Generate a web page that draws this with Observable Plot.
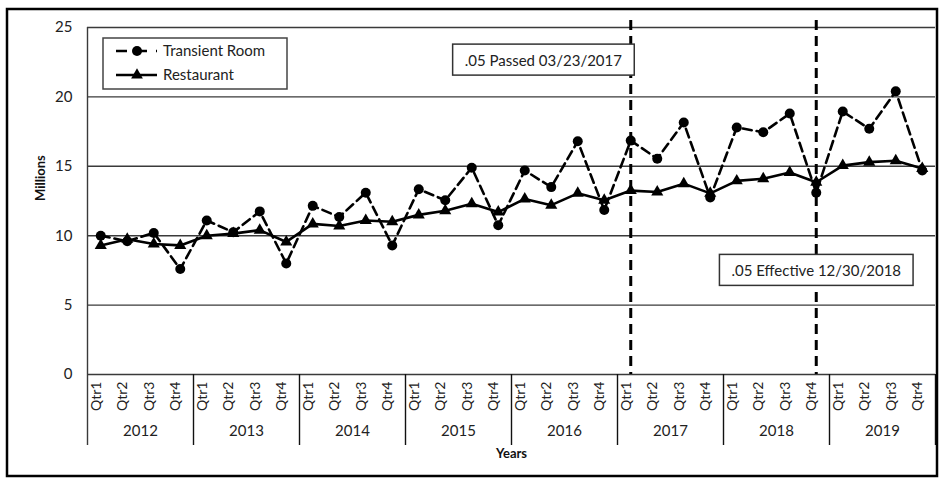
<!DOCTYPE html>
<html><head><meta charset="utf-8">
<script src="https://cdn.jsdelivr.net/npm/d3@7"></script>
<script src="https://cdn.jsdelivr.net/npm/@observablehq/plot@0.6"></script>
<style>
body{margin:0;background:#fff;}
#chart svg{font-family: Lato, "Liberation Sans", sans-serif; background:#fff;}
</style></head><body><div id="chart"></div>
<script>
const years = ["2012","2013","2014","2015","2016","2017","2018","2019"];
const quarters = ["Qtr1","Qtr2","Qtr3","Qtr4"];
const transientRoom = [10.0, 9.6, 10.2, 7.6, 11.1, 10.25, 11.75, 8.0,
  12.15, 11.35, 13.1, 9.3, 13.35, 12.55, 14.9, 10.75,
  14.7, 13.5, 16.8, 11.85, 16.85, 15.55, 18.15, 12.75,
  17.8, 17.45, 18.8, 13.1, 18.95, 17.7, 20.4, 14.7];
const restaurant = [9.3, 9.75, 9.4, 9.3, 10.0, 10.15, 10.4, 9.55,
  10.85, 10.7, 11.1, 11.0, 11.5, 11.8, 12.3, 11.7,
  12.65, 12.2, 13.05, 12.55, 13.25, 13.15, 13.75, 13.05,
  13.95, 14.1, 14.55, 13.85, 15.05, 15.3, 15.4, 14.85];
const yTicks = [0, 5, 10, 15, 20, 25];
const seriesNames = ["Transient Room", "Restaurant"];
const events = [
  {label: ".05 Passed 03/23/2017", year: "2017", quarter: "Qtr1"},
  {label: ".05 Effective 12/30/2018", year: "2018", quarter: "Qtr4"}
];

const idx = (y, q) => years.indexOf(y) * 4 + quarters.indexOf(q);
const rows = transientRoom.map((v, i) => ({
  i, year: years[Math.floor(i / 4)], q: quarters[i % 4], transient: v, restaurant: restaurant[i]
}));

const W = 943, H = 481, mt = 27, mb = 107, ml = 87, mr = 8;
const frameH = H - mt - mb;
const grid = "#3a3a3a";
const font = 14;

// annotation layout (offsets in quarters / millions)
const annPos = [{dx: -3.3, y: 22.6}, {dx: 0, y: 7.45}];

const chart = Plot.plot({
  width: W, height: H,
  marginTop: mt, marginBottom: mb, marginLeft: ml, marginRight: mr,
  x: {type: "linear", domain: [-0.5, quarters.length * years.length - 0.5], axis: null},
  y: {domain: [0, 25], axis: null},
  style: {fontSize: font + "px"},
  marks: [
    Plot.ruleY(yTicks, {y: d => d, stroke: grid, strokeWidth: 1.4}),
    Plot.ruleX([-0.5], {x: d => d, stroke: grid, strokeWidth: 1.4, insetBottom: -71}),
    Plot.ruleX(d3.range(1, years.length + 1).map(k => k * 4 - 0.5), {x: d => d, stroke: "#111", strokeWidth: 1.4, insetTop: frameH, insetBottom: -71}),
    Plot.ruleX(events, {x: d => idx(d.year, d.quarter), stroke: "#000", strokeWidth: 3, strokeDasharray: "10,6", insetTop: -7}),
    Plot.line(rows, {x: "i", y: "transient", stroke: "#000", strokeWidth: 2.6, strokeDasharray: "9,5"}),
    Plot.dot(rows, {x: "i", y: "transient", r: 5, fill: "#000", stroke: "none"}),
    Plot.line(rows, {x: "i", y: "restaurant", stroke: "#000", strokeWidth: 2.6}),
    Plot.dot(rows, {x: "i", y: "restaurant", symbol: "triangle", r: 4.5, fill: "#000", stroke: "none"}),
    // y tick labels
    Plot.text(yTicks, {y: d => d, text: d => String(d), frameAnchor: "left", dx: -15, textAnchor: "end", fontSize: font + 1, fill: "#222"}),
    Plot.text(["Millions"], {text: d => d, frameAnchor: "left", dx: -47, rotate: -90, fontWeight: "bold", fontSize: 13, fill: "#111"}),
    // x tick labels (quarters)
    Plot.text(rows, {x: "i", text: "q", frameAnchor: "bottom", dy: 7, rotate: -90, textAnchor: "end", fontSize: font, fill: "#222"}),
    // year labels
    Plot.text(years, {x: (d, k) => k * 4 + 1.5, text: d => d, frameAnchor: "bottom", dy: 61, fontSize: font + 1, fill: "#222"}),
    Plot.text(["Years"], {text: d => d, frameAnchor: "bottom", dy: 83, fontWeight: "bold", fontSize: 13, fill: "#111"}),
    // annotations
    Plot.text(events, {x: (d, k) => idx(d.year, d.quarter) + annPos[k].dx, y: (d, k) => annPos[k].y, text: "label", fontSize: font + 1, fill: "#222"})
  ]
});
document.getElementById("chart").appendChild(chart);

const svg = d3.select(chart);
// annotation boxes
chart.querySelectorAll("text").forEach(t => {
  if (events.some(e => e.label === t.textContent)) {
    const b = t.getBBox();
    const p = t.parentNode;
    const r = document.createElementNS("http://www.w3.org/2000/svg", "rect");
    const padX = 12, hgt = 31;
    r.setAttribute("x", b.x - padX); r.setAttribute("y", b.y + b.height / 2 - hgt / 2);
    r.setAttribute("width", b.width + 2 * padX); r.setAttribute("height", hgt);
    r.setAttribute("fill", "#fff"); r.setAttribute("stroke", "#333"); r.setAttribute("stroke-width", 1.5);
    if (t.getAttribute("transform")) r.setAttribute("transform", t.getAttribute("transform"));
    p.insertBefore(r, t);
  }
});

// legend
const lg = svg.append("g").attr("transform", "translate(103,38)");
lg.append("rect").attr("width", 184).attr("height", 51).attr("fill", "#fff").attr("stroke", "#444").attr("stroke-width", 1.5);
const rowsY = [13, 37];
lg.append("line").attr("x1", 13).attr("x2", 54).attr("y1", rowsY[0]).attr("y2", rowsY[0]).attr("stroke", "#000").attr("stroke-width", 2.6).attr("stroke-dasharray", "11,9");
lg.append("circle").attr("cx", 34).attr("cy", rowsY[0]).attr("r", 5).attr("fill", "#000");
lg.append("line").attr("x1", 13).attr("x2", 54).attr("y1", rowsY[1]).attr("y2", rowsY[1]).attr("stroke", "#000").attr("stroke-width", 2.6);
lg.append("path").attr("d", d3.symbol(d3.symbolTriangle, 60)()).attr("transform", `translate(34,${rowsY[1]})`).attr("fill", "#000");
seriesNames.forEach((n, k) => lg.append("text").attr("x", 60).attr("y", rowsY[k]).attr("dy", "0.35em").attr("text-anchor", "start").attr("font-size", font + 1).attr("fill", "#222").text(n));

// outer border
svg.append("rect").attr("x", 7).attr("y", 9).attr("width", 930).attr("height", 467).attr("fill", "none").attr("stroke", "#000").attr("stroke-width", 2.5);
</script></body></html>
